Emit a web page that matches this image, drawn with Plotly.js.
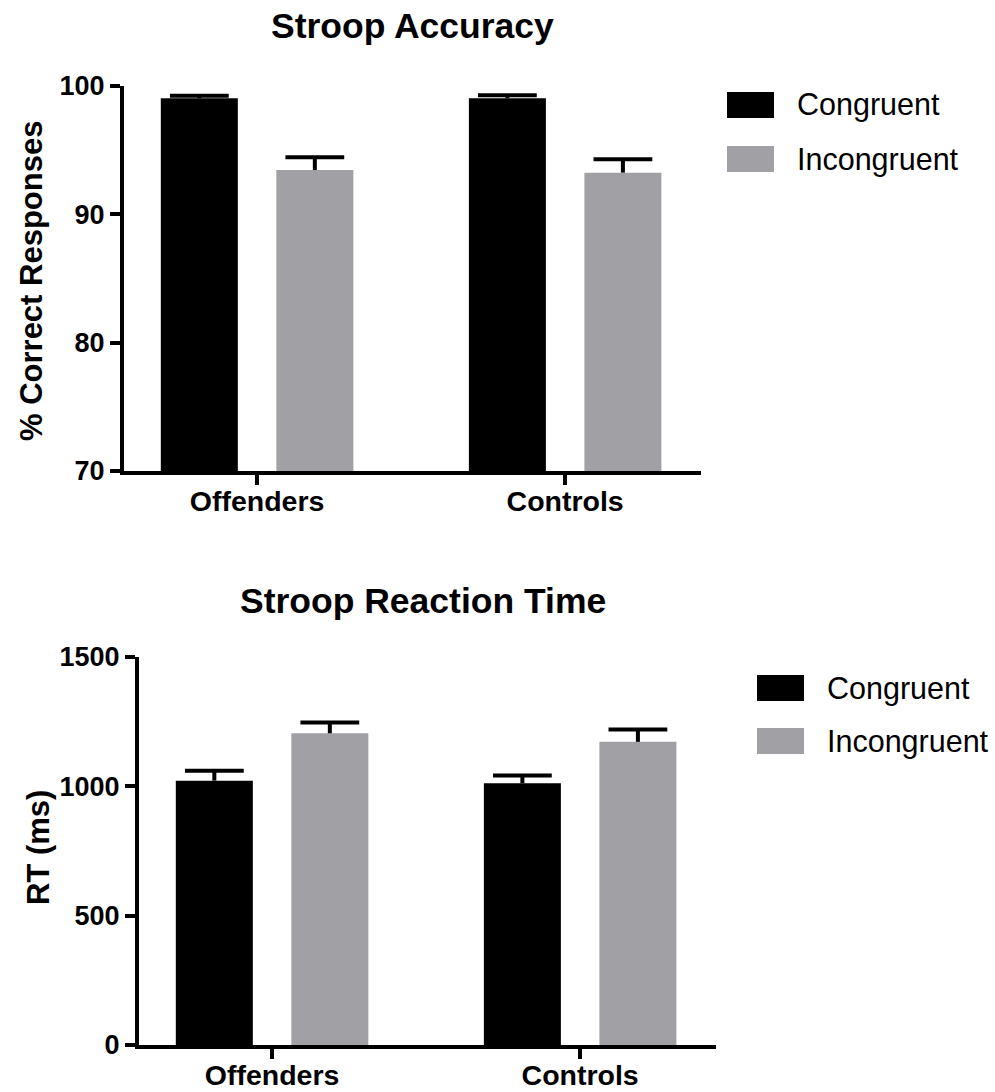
<!DOCTYPE html>
<html>
<head>
<meta charset="utf-8">
<script src="https://cdn.plot.ly/plotly-3.0.1.min.js"></script>
<style>html,body{margin:0;padding:0;background:#fff;}#chart{width:995px;height:1092px;}</style>
</head>
<body>
<div id="chart"></div>
<script>
// ---- data ----
const categories = ['Offenders', 'Controls'];
const seriesNames = ['Congruent', 'Incongruent'];
const seriesColors = ['#000000', '#a1a0a5'];

const accCongruent = [99.05, 99.05];
const accCongruentErr = [0.2, 0.22];
const accIncongruent = [93.45, 93.25];
const accIncongruentErr = [1.0, 1.05];

const rtCongruent = [1022, 1012];
const rtCongruentErr = [38, 30];
const rtIncongruent = [1205, 1172];
const rtIncongruentErr = [42, 48];

const panelTitles = ['Stroop Accuracy', 'Stroop Reaction Time'];
const yTitles = ['% Correct Responses', 'RT (ms)'];

// ---- build ----
const FONT = 'Arial, "Liberation Sans", Helvetica, sans-serif';
const W = 995, H = 1092;
const catIndex = categories.map((c, i) => i);
const offsets = [-0.3125, 0.0625];
const barW = 0.25;

function barTraces(vals, errs, idx, xa, ya) {
  return [{
    type: 'bar', x: catIndex, y: vals, name: seriesNames[idx],
    xaxis: xa, yaxis: ya, showlegend: false,
    width: barW, offset: offsets[idx],
    marker: {color: seriesColors[idx], line: {width: 0}},
    error_y: {type: 'data', array: errs, arrayminus: errs.map(() => 0), symmetric: false,
              color: '#000', thickness: 4, width: 0}
  }, {
    // error-bar caps (top only)
    type: 'scatter', mode: 'markers', xaxis: xa, yaxis: ya, showlegend: false,
    x: catIndex.map(i => i + offsets[idx] + barW / 2),
    y: vals.map((v, i) => v + errs[i]),
    marker: {symbol: 'line-ew', size: 42, color: '#000', line: {width: 4, color: '#000'}},
    cliponaxis: false
  }];
}

const data = [].concat(
  barTraces(accCongruent, accCongruentErr, 0, 'x', 'y'),
  barTraces(accIncongruent, accIncongruentErr, 1, 'x', 'y'),
  barTraces(rtCongruent, rtCongruentErr, 0, 'x2', 'y2'),
  barTraces(rtIncongruent, rtIncongruentErr, 1, 'x2', 'y2')
);

const px = v => v / W, py = v => 1 - v / H;

const xCommon = {
  type: 'linear', range: [-0.432, 1.441], showgrid: false, zeroline: false,
  tickvals: catIndex, ticktext: categories,
  showline: true, linecolor: '#000', linewidth: 4,
  ticks: 'outside', ticklen: 10, tickwidth: 4, tickcolor: '#000', ticklabelstandoff: -8,
  tickfont: {family: FONT, size: 28.5, color: '#000', weight: 700}, fixedrange: true
};
const yCommon = {
  showgrid: false, zeroline: false, showline: true, linecolor: '#000', linewidth: 4,
  ticks: 'outside', ticklen: 10, tickwidth: 4, tickcolor: '#000',
  tickfont: {family: FONT, size: 27, color: '#000', weight: 700}, fixedrange: true
};

const layout = {
  width: W, height: H, margin: {l: 0, r: 0, t: 0, b: 0},
  paper_bgcolor: '#fff', plot_bgcolor: 'rgba(0,0,0,0)', showlegend: false,
  barmode: 'overlay',
  xaxis: Object.assign({}, xCommon, {domain: [px(124), px(701)], anchor: 'y'}),
  yaxis: Object.assign({}, yCommon, {domain: [py(471), py(86)], anchor: 'x', range: [70, 100], tickvals: [70, 80, 90, 100]}),
  xaxis2: Object.assign({}, xCommon, {domain: [px(139), px(716)], anchor: 'y2'}),
  yaxis2: Object.assign({}, yCommon, {domain: [py(1045), py(657)], anchor: 'x2', range: [0, 1500], tickvals: [0, 500, 1000, 1500]}),
  annotations: [],
  shapes: []
};

// titles
[[412, 26], [423, 601]].forEach((p, i) => {
  layout.annotations.push({xref: 'paper', yref: 'paper', x: px(p[0]), y: py(p[1]),
    xanchor: 'center', yanchor: 'middle', showarrow: false, text: panelTitles[i],
    font: {family: FONT, size: 35.5, color: '#000', weight: 700}});
});
// y titles
[[31, 281], [38, 848]].forEach((p, i) => {
  layout.annotations.push({xref: 'paper', yref: 'paper', x: px(p[0]), y: py(p[1]),
    xanchor: 'center', yanchor: 'middle', showarrow: false, text: yTitles[i], textangle: -90,
    font: {family: FONT, size: 31, color: '#000', weight: 700}});
});
// legends
const legendPos = [{x: 727, y: [105, 159], tx: 795}, {x: 757, y: [688, 741], tx: 825}];
legendPos.forEach(lp => {
  seriesNames.forEach((nm, i) => {
    layout.shapes.push({type: 'rect', xref: 'paper', yref: 'paper',
      x0: px(lp.x), x1: px(lp.x + 47), y0: py(lp.y[i] - 13), y1: py(lp.y[i] + 13),
      fillcolor: seriesColors[i], line: {width: 0}});
    layout.annotations.push({xref: 'paper', yref: 'paper', x: px(lp.tx), y: py(lp.y[i]),
      xanchor: 'left', yanchor: 'middle', showarrow: false, text: nm,
      font: {family: FONT, size: 30.5, color: '#000'}});
  });
});

Plotly.newPlot('chart', data, layout, {displayModeBar: false, staticPlot: true});
</script>
</body>
</html>
